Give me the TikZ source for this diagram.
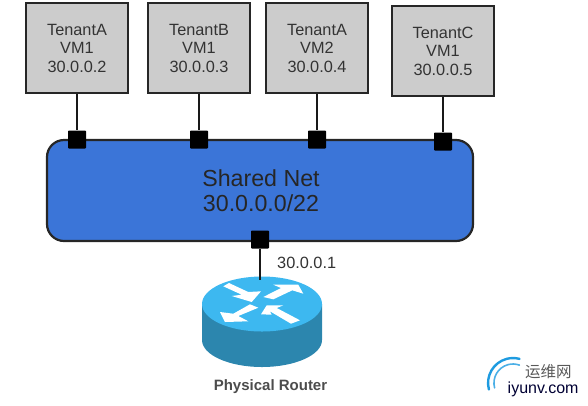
\documentclass[tikz,border=0pt]{standalone}
\usepackage{fontspec}
\usetikzlibrary{shapes.geometric}
\setmainfont{Liberation Sans}
\newfontfamily\cjkfont{Noto Sans CJK SC}
\definecolor{vmgray}{HTML}{CCCCCC}
\definecolor{netblue}{HTML}{3B75D8}
\definecolor{txtgray}{HTML}{333333}
\definecolor{rtop}{HTML}{3DB8F0}
\definecolor{rside}{HTML}{2C86AE}
\definecolor{wmblue}{HTML}{1E9BE0}
\tikzset{
  vmbox/.style={draw=black!85,line width=1.9pt,fill=vmgray,minimum width=102pt,minimum height=90pt,
    align=center,text=txtgray,font=\fontsize{16.3}{18.5}\selectfont,inner sep=0pt},
  netbox/.style={draw=black!85,line width=2.2pt,fill=netblue,rounded corners=17pt,minimum width=426pt,minimum height=101pt,
    align=center,text=black!85,font=\fontsize{23.2}{25.5}\selectfont,inner sep=0pt},
  port/.style={fill=black,minimum size=18pt,inner sep=0pt,rounded corners=0.8pt},
  link/.style={draw=black!90,line width=2pt},
  lbl/.style={text=txtgray,inner sep=0pt},
  arr/.style={fill=white,draw=none}
}
\begin{document}
\begin{tikzpicture}[x=1pt,y=-1pt]
\useasboundingbox (0,0) rectangle (588,405);
% network
\node[netbox] (net) at (260,190.5) {\hspace*{2pt}Shared Net\\\hspace*{2pt}30.0.0.0/22};
% VMs
\node[vmbox] (a1) at (77,48) {TenantA\\VM1\\30.0.0.2};
\node[vmbox] (b1) at (199,48) {TenantB\\VM1\\30.0.0.3};
\node[vmbox] (a2) at (317,48) {TenantA\\VM2\\30.0.0.4};
\node[vmbox] (c1) at (443,51) {TenantC\\VM1\\30.0.0.5};
% ports
\node[port] (p1) at (77,139.5) {};
\node[port] (p2) at (199,139.5) {};
\node[port] (p3) at (317,139.5) {};
\node[port] (p4) at (443,141.5) {};
\node[port] (p5) at (260,239.5) {};
\draw[link] (a1) -- (p1);
\draw[link] (b1) -- (p2);
\draw[link] (a2) -- (p3);
\draw[link] (c1) -- (p4);
% router
\fill[rside] (202,304) -- (202,340) arc[start angle=180,end angle=0,x radius=60,y radius=27] -- (322,304) -- cycle;
\node[ellipse,fill=rtop,minimum width=120pt,minimum height=55pt,inner sep=0pt] (router) at (262,304) {};
\path[arr] (223.3,286.3) -- (229,283) -- (248.3,292) -- (261,291.3) -- (251.7,302) -- (231.7,296) -- (241.7,294.7) -- cycle;
\path[arr] (263.3,297) -- (281,288) -- (273.3,284.7) -- (298.3,284.7) -- (303.3,293.7) -- (292.3,290.3) -- (273.3,299.3) -- cycle;
\path[arr] (250,304.3) -- (233.3,313.7) -- (220,312) -- (225,322) -- (248.3,321.3) -- (238.3,316) -- (258.3,307.7) -- cycle;
\path[arr] (261,314.3) -- (266.7,305.3) -- (283.3,305.3) -- (276.7,308) -- (300,320.3) -- (291,323.7) -- (270,311.3) -- (271.7,314.7) -- cycle;
\coordinate (rin) at (260,280);
\draw[link] (p5) -- (rin);
% labels
\node[lbl,font=\fontsize{16.3}{18}\selectfont,anchor=west] (addr) at (277,263) {30.0.0.1};
\node[lbl,font=\bfseries\fontsize{15}{17}\selectfont,text=black!70] (rname) at (270.5,386.5) {Physical Router};
% watermark
\draw[wmblue,line width=2.4pt,line cap=round] (488.9,389.5) arc[start angle=-195,end angle=-75,radius=25];
\draw[wmblue!80,line width=1.6pt,line cap=round] (494.6,387.9) arc[start angle=-195,end angle=-70,radius=19];
\node[lbl,font=\cjkfont\fontsize{15.5}{18}\selectfont,text=black!65,anchor=west] (wm1) at (525,371.5) {运维网};
\node[lbl,font=\fontsize{16}{18}\selectfont,text=black!80!blue,anchor=west] (wm2) at (507.5,389.5) {iyunv.com};
\end{tikzpicture}
\end{document}
